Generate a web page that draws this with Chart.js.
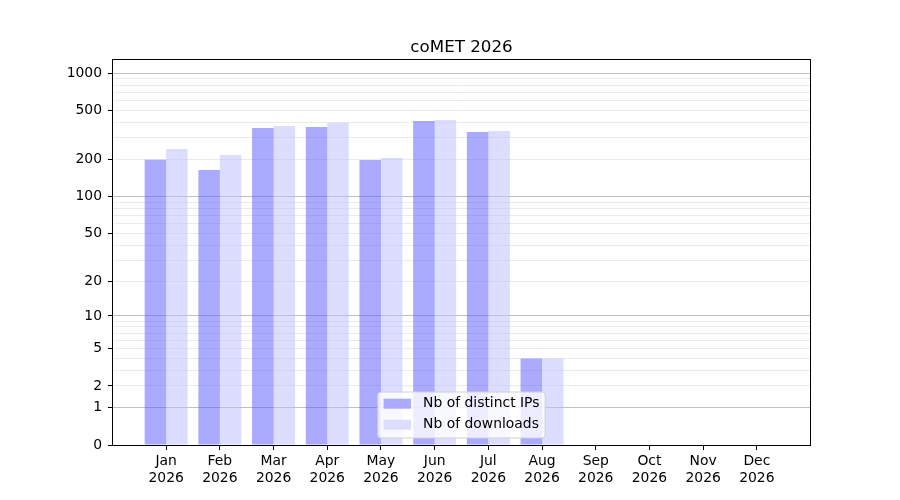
<!DOCTYPE html>
<html>
<head>
<meta charset="utf-8">
<script src="https://cdn.jsdelivr.net/npm/chart.js@4.4.0/dist/chart.umd.min.js"></script>
<style>
  body { margin: 0; background: #fff; }
  canvas { display: block; }
</style>
</head>
<body>
<canvas id="cometChart" width="900" height="500" style="width:900px;height:500px;"></canvas>
<script>
// values
var months = ["Jan", "Feb", "Mar", "Apr", "May", "Jun", "Jul", "Aug", "Sep", "Oct", "Nov", "Dec"];
var year = "2026";
var distinctIPs = [200, 165, 361, 368, 199, 411, 335, 4, 0, 0, 0, 0];
var downloads = [244, 218, 375, 399, 206, 419, 341, 4, 0, 0, 0, 0];
var yTickLabels = [0, 1, 2, 5, 10, 20, 50, 100, 200, 500, 1000];
var yDarkGrid = [1, 10, 100, 1000];
var yLightGrid = [3, 4, 6, 7, 8, 9, 30, 40, 60, 70, 80, 90, 300, 400, 600, 700, 800, 900];
var yTop = 1280;

var FONT = "'DejaVu Sans', 'Liberation Sans', sans-serif";

// the y axis is log10(v + 1)
function tr(v){
	return Math.log10(v + 1);
}

function toPoints(arr){
	var pts = [];
	for (var i=0; i<arr.length; i++){
		pts.push({x: i, y: tr(arr[i])});
	}
	return pts;
}

var framePlugin = {
	id: "frame",
	afterDraw: function(chart){
		var a = chart.chartArea;
		var ctx = chart.ctx;
		ctx.save();
		ctx.strokeStyle = "#000";
		ctx.lineWidth = 1;
		ctx.strokeRect(Math.round(a.left) - 0.5, Math.round(a.top) - 0.5, Math.round(a.right - a.left) + 1, Math.round(a.bottom - a.top) + 1);
		ctx.restore();
	}
};

// legend in the lower centre of the plot, like the original
var insideLegend = {
	id: "insideLegend",
	afterDraw: function(chart){
		var a = chart.chartArea;
		var ctx = chart.ctx;
		var sets = chart.data.datasets;
		ctx.save();
		ctx.font = "13.9px " + FONT;
		var textW = 0;
		for (var i=0; i<sets.length; i++){
			textW = Math.max(textW, ctx.measureText(sets[i].label).width);
		}
		var pad = 5.7, handle = 27.5, gap = 12, rowH = 21;
		var w = pad + handle + gap + textW + pad;
		var h = 46;
		var x = (a.left + a.right) / 2 - w / 2;
		var y = a.bottom - 7 - h;
		ctx.beginPath();
		ctx.roundRect(x, y, w, h, 3);
		ctx.fillStyle = "rgba(255,255,255,0.8)";
		ctx.fill();
		ctx.strokeStyle = "#d0d0d0";
		ctx.lineWidth = 1;
		ctx.stroke();
		ctx.textBaseline = "middle";
		ctx.textAlign = "left";
		for (var j=0; j<sets.length; j++){
			var cy = y + 11.7 + j * rowH;
			ctx.fillStyle = sets[j].legendColor;
			ctx.fillRect(x + pad, cy - 5, handle, 10);
			ctx.fillStyle = "#000";
			ctx.fillText(sets[j].label, x + pad + handle + gap, cy);
		}
		ctx.restore();
	}
};

function showChart(){
	var yTicks = [];
	for (var i=0; i<yTickLabels.length; i++){
		yTicks.push({value: tr(yTickLabels[i]), raw: yTickLabels[i], lbl: String(yTickLabels[i])});
	}
	for (var k=0; k<yLightGrid.length; k++){
		yTicks.push({value: tr(yLightGrid[k]), raw: yLightGrid[k], lbl: ""});
	}
	yTicks.sort(function(p, q){ return p.value - q.value; });

	new Chart(document.getElementById("cometChart"), {
		type: "bar",
		data: {
			datasets: [{
				label: "Nb of distinct IPs",
				data: toPoints(distinctIPs),
				backgroundColor: "rgba(85,85,255,0.5)",
				legendColor: "#aaaaff",
				borderWidth: 0,
				categoryPercentage: 0.8,
				barPercentage: 1.0
			}, {
				label: "Nb of downloads",
				data: toPoints(downloads),
				backgroundColor: "rgba(187,187,255,0.5)",
				legendColor: "#ddddff",
				borderWidth: 0,
				categoryPercentage: 0.8,
				barPercentage: 1.0
			}]
		},
		options: {
			responsive: false,
			animation: false,
			devicePixelRatio: 1,
			layout: {padding: {left: 0, right: 90, top: 0, bottom: 0}},
			plugins: {
				legend: {display: false},
				tooltip: {enabled: false},
				title: {
					display: true,
					fullSize: false,
					text: "coMET " + year,
					color: "#000",
					font: {family: FONT, size: 16.7, weight: "normal"},
					padding: {top: 38, bottom: 2}
				}
			},
			scales: {
				x: {
					type: "linear",
					offset: false,
					min: -0.99,
					max: 11.99,
					afterBuildTicks: function(scale){
						var t = [];
						for (var i=0; i<months.length; i++){ t.push({value: i}); }
						scale.ticks = t;
					},
					afterFit: function(scale){ scale.height = 55; },
					ticks: {
						autoSkip: false,
						maxRotation: 0,
						padding: 3,
						color: "#000",
						font: {family: FONT, size: 13.9},
						callback: function(value){ return [months[value], year]; }
					},
					grid: {offset: false, drawOnChartArea: false, drawTicks: true, tickLength: 5, tickColor: "#000"},
					border: {display: false}
				},
				y: {
					type: "linear",
					min: 0,
					max: tr(yTop),
					afterBuildTicks: function(scale){ scale.ticks = yTicks.map(function(t){ return Object.assign({}, t); }); },
					afterFit: function(scale){ scale.width = 113; },
					ticks: {
						autoSkip: false,
						padding: 6,
						color: "#000",
						font: {family: FONT, size: 13.9},
						callback: function(value, index, ticks){ return ticks[index].lbl; }
					},
					grid: {
						tickLength: 5,
						color: function(c){
							if (!c.tick || c.tick.raw === 0) return "rgba(0,0,0,0)";
							return yDarkGrid.indexOf(c.tick.raw) >= 0 ? "#c0c0c0" : "#ebebeb";
						},
						tickColor: function(c){
							return (c.tick && c.tick.lbl !== "") ? "#000" : "rgba(0,0,0,0)";
						}
					},
					border: {display: false}
				}
			}
		},
		plugins: [framePlugin, insideLegend]
	});
}

showChart();
</script>
</body>
</html>
